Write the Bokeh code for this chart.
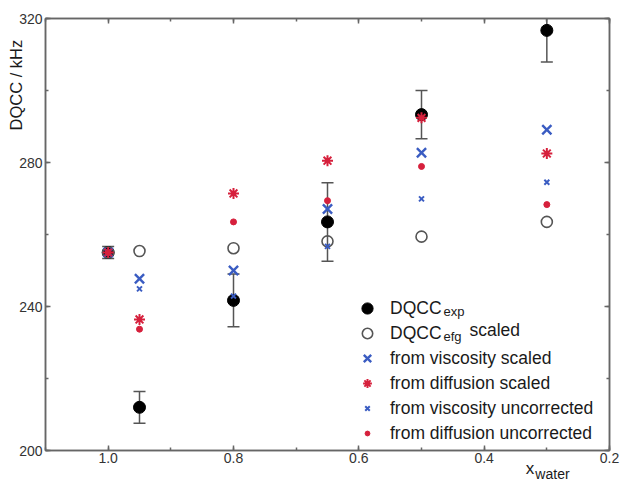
from bokeh.plotting import figure
from bokeh.models import (Range1d, SingleIntervalTicker, FixedTicker, LinearAxis, Legend,
                          LegendItem, Label, PrintfTickFormatter, ColumnDataSource,
                          CustomJSTickFormatter)
from bokeh.embed import file_html
from bokeh.resources import INLINE

# ---- data ----
x_water = [1.0, 0.95, 0.8, 0.65, 0.5, 0.3]
dqcc_exp = [255.0, 212.0, 241.7, 263.5, 293.3, 316.7]
dqcc_exp_err = [1.7, 4.4, 7.3, 10.9, 6.7, 8.8]
dqcc_efg_scaled = [255.0, 255.4, 256.2, 258.1, 259.4, 263.5]
visc_scaled = [255.0, 247.7, 250.0, 267.1, 282.7, 289.1]
diff_scaled = [255.0, 236.4, 271.4, 280.5, 292.4, 282.5]
visc_uncorr = [255.0, 244.9, 242.9, 256.7, 269.9, 274.5]
diff_uncorr = [255.0, 233.7, 263.5, 269.4, 278.9, 268.3]

series_labels = ["DQCC", "DQCC", "from viscosity scaled", "from diffusion scaled",
                 "from viscosity uncorrected", "from diffusion uncorrected"]

x_ticks_interval = 0.2
y_ticks_interval = 40

# where the axis titles sit (data coordinates along each axis)
y_title_at = [301.5]
x_title_at = [0.327]
x_title_sub_at = [0.291]

FONT = "Liberation Sans"
AX = "#666666"
TXT = "#333333"
BLUE = "#3a5cc2"
RED = "#d6203c"

lower = [v - e for v, e in zip(dqcc_exp, dqcc_exp_err)]
upper = [v + e for v, e in zip(dqcc_exp, dqcc_exp_err)]
src = ColumnDataSource(dict(x=x_water, exp=dqcc_exp, lo=lower, hi=upper,
                            efg=dqcc_efg_scaled, vs=visc_scaled, ds=diff_scaled,
                            vu=visc_uncorr, du=diff_uncorr))

p = figure(frame_width=564, frame_height=432, x_range=Range1d(1.1, 0.2), y_range=Range1d(200, 320),
           output_backend="svg", toolbar_location=None,
           min_border_left=45, min_border_right=11, min_border_top=18, min_border_bottom=31)
p.xgrid.visible = False
p.ygrid.visible = False
p.outline_line_color = AX
p.outline_line_width = 1.5
p.background_fill_color = "white"
p.border_fill_color = "white"

def style_axis(ax, ticker, show_labels=True, standoff=3):
    ax.ticker = ticker
    ax.axis_line_color = AX
    ax.axis_line_width = 1.5
    ax.major_tick_line_color = AX
    ax.minor_tick_line_color = AX
    ax.major_tick_line_width = 1.5
    ax.minor_tick_line_width = 1.5
    ax.major_tick_in = 5
    ax.major_tick_out = 0
    ax.minor_tick_in = 3
    ax.minor_tick_out = 0
    ax.major_label_text_font = FONT
    ax.major_label_text_color = TXT
    if show_labels:
        ax.major_label_text_font_size = "14px"
        ax.major_label_standoff = standoff
    else:
        ax.major_label_text_font_size = "8px"
        ax.major_label_standoff = 0
        ax.formatter = CustomJSTickFormatter(code="return ''")

xt = SingleIntervalTicker(interval=x_ticks_interval, num_minor_ticks=2)
yt = SingleIntervalTicker(interval=y_ticks_interval, num_minor_ticks=2)
style_axis(p.xaxis[0], xt, standoff=2)
p.xaxis[0].formatter = PrintfTickFormatter(format="%.1f")
style_axis(p.yaxis[0], yt, standoff=3)

top_ax = LinearAxis()
style_axis(top_ax, SingleIntervalTicker(interval=x_ticks_interval, num_minor_ticks=2), False)
p.add_layout(top_ax, "above")
right_ax = LinearAxis()
style_axis(right_ax, SingleIntervalTicker(interval=y_ticks_interval, num_minor_ticks=2), False)
p.add_layout(right_ax, "right")

# axis titles drawn as tick labels of bare extra axes (so they may sit off-centre)
def title_axis(text, ticks, size, standoff, orientation="horizontal"):
    ax = LinearAxis(ticker=FixedTicker(ticks=ticks, minor_ticks=[]),
                    formatter=CustomJSTickFormatter(code="return %r" % text))
    ax.axis_line_color = None
    ax.major_tick_line_color = None
    ax.minor_tick_line_color = None
    ax.major_tick_in = 0
    ax.major_tick_out = 0
    ax.major_label_text_font = FONT
    ax.major_label_text_font_size = size
    ax.major_label_text_color = "#1a1a1a"
    ax.major_label_standoff = standoff
    ax.major_label_orientation = orientation
    return ax

p.add_layout(title_axis("DQCC / kHz", y_title_at, "16.5px", -9, "vertical"), "left")
p.add_layout(title_axis("x", x_title_at, "17px", -7), "below")
p.add_layout(title_axis("water", x_title_sub_at, "14px", -15), "below")

# error bars
p.segment(x0="x", y0="lo", x1="x", y1="hi", source=src, line_color="#555555", line_width=1.5)
p.scatter(x="x", y="lo", source=src, marker="dash", size=12, line_color="#555555", line_width=1.5)
p.scatter(x="x", y="hi", source=src, marker="dash", size=12, line_color="#555555", line_width=1.5)

r_exp = p.scatter(x="x", y="exp", source=src, marker="circle", size=12,
                  fill_color="black", line_color="black")
r_efg = p.scatter(x="x", y="efg", source=src, marker="circle", size=11,
                  fill_alpha=0, line_color="#555555", line_width=1.6)
r_vs = p.scatter(x="x", y="vs", source=src, marker="x", size=13,
                 line_color=BLUE, line_width=2.4)
r_ds = p.scatter(x="x", y="ds", source=src, marker="asterisk", size=11,
                 line_color=RED, line_width=2)
r_vu = p.scatter(x="x", y="vu", source=src, marker="x", size=7,
                 line_color=BLUE, line_width=2)
r_du = p.scatter(x="x", y="du", source=src, marker="circle", size=6,
                 fill_color=RED, line_color=RED)

# one single-entry legend per series, so each legend marker keeps its own size
# (Bokeh draws a legend marker at 0.4 x its glyph box; boxes are even so rows align)
renderers = [r_exp, r_efg, r_vs, r_ds, r_vu, r_du]
legend_glyph_box = [28, 26, 26, 22, 16, 12]
ROW_H, ROW_STEP = 22, 25
GLYPH_CX, TEXT_X, LAST_ROW_CY = 322, 345, 17
n = len(renderers)
for i, (r, lbl, g) in enumerate(zip(renderers, series_labels, legend_glyph_box)):
    h = max(g, ROW_H)
    cy = LAST_ROW_CY + (n - 1 - i) * ROW_STEP
    lx = GLYPH_CX - g // 2
    leg = Legend(items=[LegendItem(label=lbl, renderers=[r])],
                 location=(lx, cy - h // 2), padding=0, margin=0, spacing=0,
                 glyph_width=g, glyph_height=g, label_height=ROW_H,
                 label_standoff=TEXT_X - (lx + g),
                 label_text_font=FONT, label_text_font_size="17.5px",
                 label_text_color="#1a1a1a", border_line_alpha=0, background_fill_alpha=0)
    p.add_layout(leg)

def lab(text, x, y, size):
    p.add_layout(Label(x=x, y=y, x_units="screen", y_units="screen", text=text,
                       text_font=FONT, text_font_size=size, text_color="#1a1a1a"))

lab("exp", 398, 132, "13px")
lab("efg", 398, 107, "13px")
lab("scaled", 424, 111, "17.5px")

open("out.html", "w").write(file_html(p, INLINE))
